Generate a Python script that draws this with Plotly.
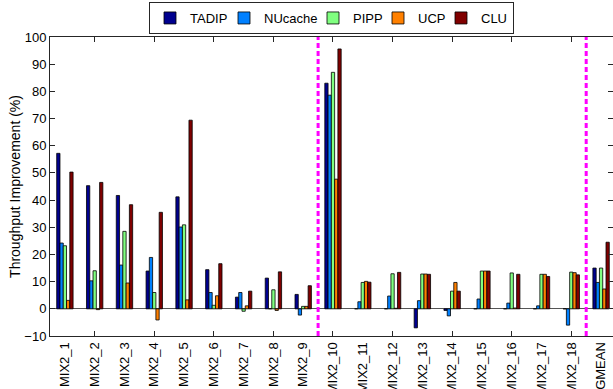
import plotly.graph_objects as go

categories = ["MIX2_1", "MIX2_2", "MIX2_3", "MIX2_4", "MIX2_5", "MIX2_6", "MIX2_7",
              "MIX2_8", "MIX2_9", "MIX2_10", "MIX2_11", "MIX2_12", "MIX2_13",
              "MIX2_14", "MIX2_15", "MIX2_16", "MIX2_17", "MIX2_18", "GMEAN"]

tadip   = [57.2, 45.3, 41.7, 13.9, 41.2, 14.4, 4.3, 11.3, 5.3, 83.0, 0.0, 0.0, -7.0, -0.6, 0.0, 0.0, 0.0, 0.0, 15.0]
nucache = [24.2, 10.3, 16.1, 18.9, 30.1, 6.0, 6.0, 0.0, -2.3, 78.6, 2.6, 4.7, 3.0, -2.6, 3.6, 2.1, 1.1, -6.0, 9.7]
pipp    = [23.2, 14.0, 28.5, 6.0, 30.9, 1.3, -0.9, 7.0, 0.9, 87.0, 9.7, 12.9, 12.8, 6.5, 13.9, 13.2, 12.7, 13.5, 15.0]
ucp     = [3.1, -0.3, 9.5, -4.1, 3.3, 4.8, 1.1, -0.6, 0.9, 47.7, 10.1, 0.2, 12.8, 9.7, 13.9, 0.3, 12.7, 13.3, 7.3]
clu     = [50.3, 46.5, 38.3, 35.5, 69.4, 16.6, 6.5, 13.6, 8.5, 95.6, 9.8, 13.4, 12.7, 6.5, 13.9, 12.7, 11.9, 12.5, 24.5]

series_names = ["TADIP", "NUcache", "PIPP", "UCP", "CLU"]
series_values = [tadip, nucache, pipp, ucp, clu]
series_colors = ["#00008F", "#0080FF", "#80FF80", "#FF8000", "#800000"]

y_ticks = list(range(-10, 101, 10))
separator_after = [9, 18]  # dashed lines after these category counts

# legend entry text-slot widths (px), slightly tighter than default spacing
legend_slots = [29, 44, 20, 18, 27]

FONT = "Liberation Sans, Arial, Helvetica, sans-serif"
AXCOL = "#262626"

positions = [i + 1 for i in range(len(categories))]

fig = go.Figure()
for name, vals, col, lw in zip(series_names, series_values, series_colors, legend_slots):
    fig.add_trace(go.Bar(
        x=positions, y=vals, name=name, legendwidth=lw,
        marker=dict(color=col, line=dict(color="black", width=0.8)),
    ))

# dummy trace to carry the secondary tick axis
fig.add_trace(go.Scatter(x=[None], y=[None], xaxis="x2", yaxis="y",
                         showlegend=False, hoverinfo="skip"))

for s in separator_after:
    fig.add_shape(type="line", xref="x", yref="paper",
                  x0=s + 0.5, x1=s + 0.5, y0=0, y1=1,
                  line=dict(color="#FF00FF", width=3, dash="5px,3px"))

xr = [0.5, len(categories) + 0.4]

fig.update_layout(
    width=613, height=389,
    margin=dict(l=50, r=0, t=37, b=53, autoexpand=False),
    paper_bgcolor="white", plot_bgcolor="white",
    barmode="group", bargap=0.45, bargroupgap=0.0,
    font=dict(family=FONT, size=13, color="black"),
    showlegend=True,
    legend=dict(orientation="h", x=0.5, xanchor="center", y=1.117, yanchor="top",
                bordercolor=AXCOL, borderwidth=1, bgcolor="white",
                font=dict(family=FONT, size=13, color="black"),
                itemwidth=30, tracegroupgap=0),
    xaxis=dict(range=xr, tickmode="array", tickvals=positions, ticktext=categories,
               tickangle=-90, ticks="", showgrid=False, zeroline=False,
               showline=True, linecolor=AXCOL, linewidth=1, mirror=True,
               automargin=False, tickfont=dict(family=FONT, size=13, color="black")),
    xaxis2=dict(range=xr, overlaying="x", side="bottom", tickmode="array",
                tickvals=positions[1::2], ticks="inside", ticklen=5, tickcolor=AXCOL,
                showticklabels=False, showgrid=False, zeroline=False,
                showline=False, mirror="ticks"),
    yaxis=dict(range=[-10, 100], tickmode="array", tickvals=y_ticks,
               ticks="inside", ticklen=5, tickcolor=AXCOL, mirror="ticks",
               showline=True, linecolor=AXCOL, linewidth=1,
               showgrid=False, zeroline=True, zerolinecolor="#555555", zerolinewidth=1,
               automargin=False,
               title=dict(text="Throughput Improvement (%)", standoff=0,
                          font=dict(family=FONT, size=14, color="black")),
               tickfont=dict(family=FONT, size=13, color="black")),
)

fig.write_html("out.html", config={"displayModeBar": False},
               post_script="document.body.style.margin='0';document.body.style.overflow='hidden';")
